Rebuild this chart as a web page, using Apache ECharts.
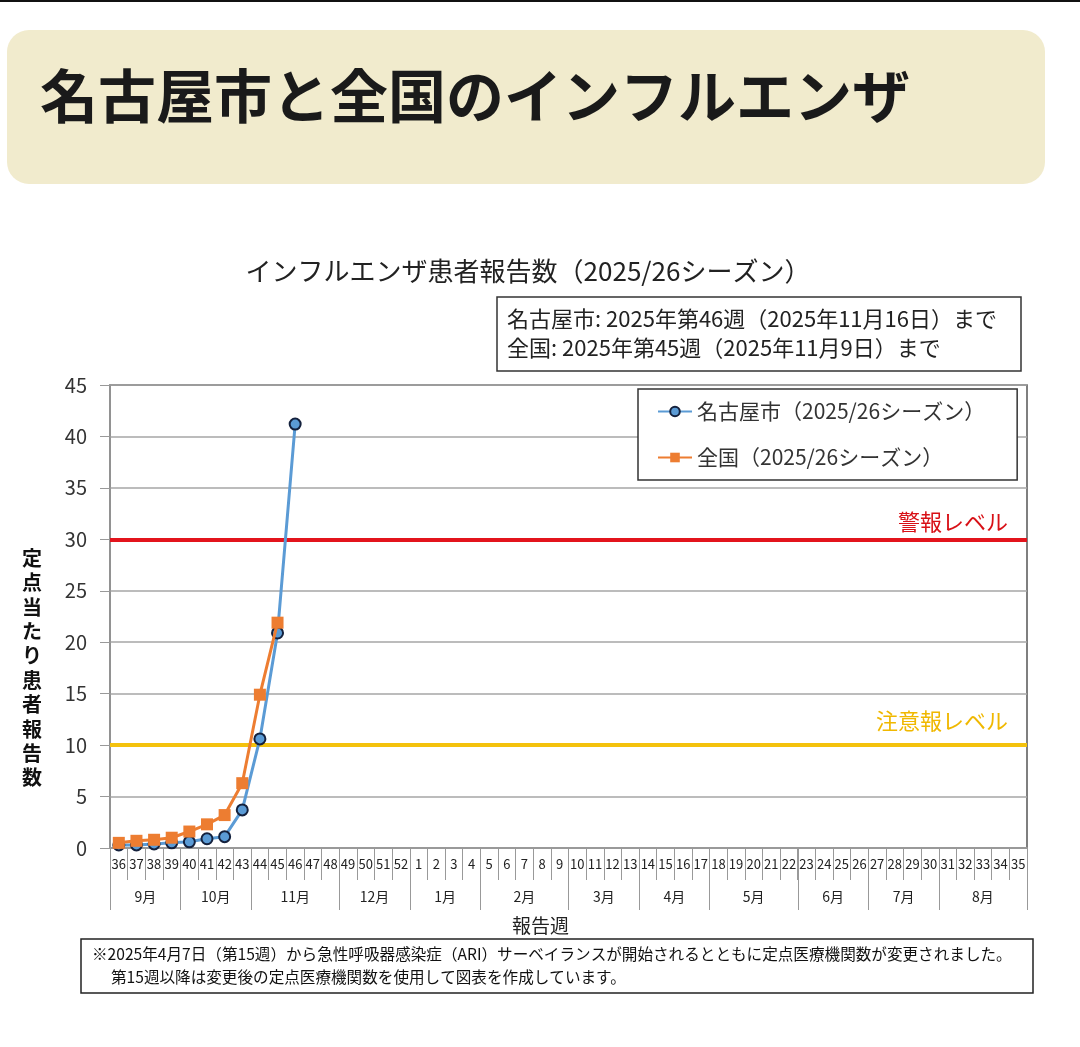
<!DOCTYPE html>
<html>
<head>
<meta charset="utf-8">
<script src="https://cdn.jsdelivr.net/npm/echarts@6/dist/echarts.min.js"></script>
<style>
html,body{margin:0;padding:0;background:#fff;}
#chart{width:1080px;height:1047px;}
</style>
</head>
<body>
<div id="chart"></div>
<script>
// ---- data ----
var pageTitle = '名古屋市と全国のインフルエンザ';
var chartTitle = 'インフルエンザ患者報告数（2025/26シーズン）';
var infoLines = ['名古屋市: 2025年第46週（2025年11月16日）まで', '全国: 2025年第45週（2025年11月9日）まで'];
var noteLines = ['※2025年4月7日（第15週）から急性呼吸器感染症（ARI）サーベイランスが開始されるとともに定点医療機関数が変更されました。',
                 '第15週以降は変更後の定点医療機関数を使用して図表を作成しています。'];
var yAxisName = '定点当たり患者報告数';
var xAxisName = '報告週';
var weeks = ['36','37','38','39','40','41','42','43','44','45','46','47','48','49','50','51','52',
             '1','2','3','4','5','6','7','8','9','10','11','12','13','14','15','16','17','18','19','20',
             '21','22','23','24','25','26','27','28','29','30','31','32','33','34','35'];
var months = ['9月','10月','11月','12月','1月','2月','3月','4月','5月','6月','7月','8月'];
var monthWeekCounts = [4,4,5,4,4,5,4,4,5,4,4,5];
var seriesNames = ['名古屋市（2025/26シーズン）', '全国（2025/26シーズン）'];
var nagoya = [0.3,0.3,0.4,0.5,0.6,0.9,1.1,3.7,10.6,20.9,41.2];
var national = [0.5,0.7,0.8,1.0,1.6,2.3,3.2,6.3,14.9,21.9];
var levelValues = [30, 10];
var levelNames = ['警報レベル', '注意報レベル'];

// ---- derived month boundaries / centers ----
var monthBounds = [0], monthMids = [];
for (var i = 0; i < monthWeekCounts.length; i++) {
  var start = monthBounds[monthBounds.length - 1];
  monthMids.push(start + monthWeekCounts[i] / 2);
  monthBounds.push(start + monthWeekCounts[i]);
}

var FONT = '"Noto Sans CJK JP", "Noto Sans", sans-serif';
var chart = echarts.init(document.getElementById('chart'));

var option = {
  animation: false,
  backgroundColor: '#ffffff',
  textStyle: { fontFamily: FONT },
  title: {
    text: chartTitle,
    left: 523, top: 253, textAlign: 'center',
    textStyle: { fontFamily: FONT, fontSize: 26, fontWeight: 'normal', color: '#222' }
  },
  legend: {
    orient: 'vertical',
    left: 638, top: 389,
    padding: [12, 32, 12, 19],
    itemGap: 25,
    itemWidth: 34, itemHeight: 12,
    borderColor: '#333', borderWidth: 1.5,
    backgroundColor: '#fff',
    textStyle: { fontFamily: FONT, fontSize: 21, color: '#333' },
    data: seriesNames
  },
  grid: {
    left: 110, right: 53, top: 385, bottom: 199,
    show: true, borderColor: '#555', borderWidth: 1.5, backgroundColor: 'transparent'
  },
  xAxis: [{
    type: 'category',
    data: weeks,
    boundaryGap: true,
    position: 'bottom',
    axisLine: { show: true, lineStyle: { color: '#999', width: 2 } },
    axisTick: { show: true, interval: 0, length: 32, lineStyle: { color: '#999' } },
    axisLabel: { interval: 0, margin: 10, fontSize: 13, color: '#222', fontFamily: FONT },
    splitLine: { show: false },
    name: xAxisName,
    nameLocation: 'middle',
    nameGap: 68,
    nameTextStyle: { fontFamily: FONT, fontSize: 19, color: '#222', padding: [0, 56, 0, 0] }
  }, {
    type: 'value',
    min: 0, max: weeks.length,
    position: 'bottom',
    axisLine: { show: false },
    axisTick: { show: true, length: 62, customValues: monthBounds, lineStyle: { color: '#999' } },
    axisLabel: {
      show: true, margin: 42, fontSize: 14, color: '#222', fontFamily: FONT,
      customValues: monthMids,
      formatter: function (v) {
        for (var k = 0; k < monthMids.length; k++) { if (Math.abs(monthMids[k] - v) < 1e-6) return months[k]; }
        return '';
      }
    },
    splitLine: { show: false }
  }],
  yAxis: {
    type: 'value',
    min: 0, max: 45, interval: 5,
    axisLine: { show: true, lineStyle: { color: '#999', width: 1.5 } },
    axisTick: { show: true, length: 10, lineStyle: { color: '#999' } },
    axisLabel: { margin: 23, fontSize: 20, color: '#333', fontFamily: FONT },
    splitLine: { show: true, lineStyle: { color: '#a6a6a6', width: 1.5 } }
  },
  series: [{
    name: seriesNames[0],
    type: 'line',
    data: nagoya,
    xAxisIndex: 0,
    symbol: 'circle',
    symbolSize: 11,
    lineStyle: { color: '#5b9bd5', width: 3 },
    itemStyle: { color: '#5b9bd5', borderColor: '#14213d', borderWidth: 2 },
    z: 3
  }, {
    name: seriesNames[1],
    type: 'line',
    data: national,
    xAxisIndex: 0,
    symbol: 'rect',
    symbolSize: 12,
    lineStyle: { color: '#ed7d31', width: 3 },
    itemStyle: { color: '#ed7d31' },
    z: 4,
    markLine: {
      silent: true,
      symbol: ['none', 'none'],
      z: 2,
      data: [{
        yAxis: levelValues[0],
        lineStyle: { color: '#e3141c', width: 4, type: 'solid' },
        label: { show: true, position: 'insideEndTop', formatter: levelNames[0], color: '#d81016', fontSize: 22, fontFamily: FONT, distance: [19, 7] }
      }, {
        yAxis: levelValues[1],
        lineStyle: { color: '#f4c20d', width: 4, type: 'solid' },
        label: { show: true, position: 'insideEndTop', formatter: levelNames[1], color: '#f0b800', fontSize: 22, fontFamily: FONT, distance: [19, 13] }
      }]
    }
  }],
  graphic: [
    { type: 'rect', shape: { x: 0, y: 0, width: 1080, height: 2 }, style: { fill: '#111' }, silent: true },
    { type: 'rect', shape: { x: 7, y: 30, width: 1038, height: 154, r: 22 }, style: { fill: '#f1ebcd' }, silent: true },
    { type: 'text', left: 40, top: 67, style: { text: pageTitle, font: 'bold 58px ' + FONT, fill: '#1a1a1a' }, silent: true },
    { type: 'rect', shape: { x: 497, y: 297, width: 524, height: 74 }, style: { fill: '#fff', stroke: '#333', lineWidth: 1.5 }, silent: true },
    { type: 'text', left: 507, top: 308, style: { text: infoLines[0], font: '22px ' + FONT, fill: '#222' }, silent: true },
    { type: 'text', left: 507, top: 337, style: { text: infoLines[1], font: '22px ' + FONT, fill: '#222' }, silent: true },
    { type: 'text', left: 22, top: 546, style: { text: yAxisName.split('').join('\n'), font: 'bold 20px ' + FONT, lineHeight: 24.4, fill: '#111', align: 'center' }, silent: true },
    { type: 'rect', shape: { x: 81, y: 939, width: 952, height: 54 }, style: { fill: '#fff', stroke: '#222', lineWidth: 1.5 }, silent: true },
    { type: 'text', left: 92, top: 946, style: { text: noteLines[0], font: '15.6px ' + FONT, fill: '#111' }, silent: true },
    { type: 'text', left: 111, top: 969, style: { text: noteLines[1], font: '15.6px ' + FONT, fill: '#111' }, silent: true }
  ]
};
chart.setOption(option);
</script>
</body>
</html>
